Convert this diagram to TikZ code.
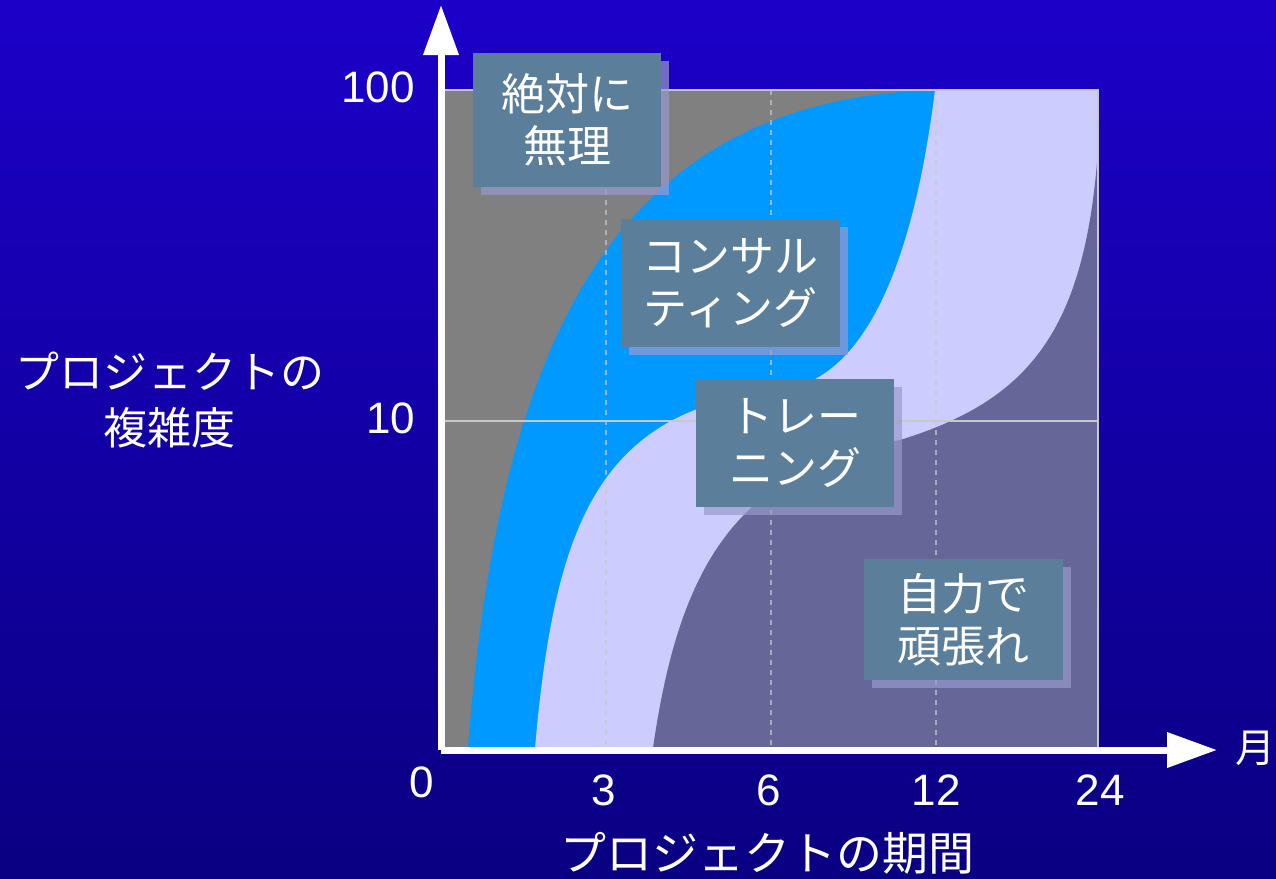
\documentclass[tikz,border=0pt]{standalone}
\usepackage{fontspec}
\setmainfont{Liberation Sans}
\newfontfamily\jpfont{Noto Sans CJK JP}
\usetikzlibrary{arrows.meta,shadows}

\definecolor{bgtop}{RGB}{28,0,200}
\definecolor{bgbot}{RGB}{10,0,130}
\definecolor{areagray}{RGB}{128,128,128}
\definecolor{areablue}{RGB}{0,153,255}
\definecolor{arealav}{RGB}{204,204,255}
\definecolor{areadark}{RGB}{102,102,153}
\definecolor{boxfill}{RGB}{91,126,155}
\definecolor{shadowcol}{RGB}{153,153,204}
\definecolor{gridcol}{RGB}{200,200,200}

\begin{document}
\begin{tikzpicture}[x=1pt,y=-1pt]
    \tikzset{
        every node/.style={text=white, inner sep=0pt, font=\fontsize{44}{54}\selectfont},
        jp/.style={font=\jpfont\fontsize{44}{56}\selectfont, align=center},
        tag/.style={jp, fill=boxfill, font=\jpfont\fontsize{44}{52}\selectfont,
            drop shadow={shadow xshift=8pt, shadow yshift=-8pt, fill=shadowcol, opacity=0.7}},
        axis/.style={white, line width=7pt, -{Triangle[length=50pt,width=34pt]}},
        grid/.style={gridcol, line width=1.5pt}
    }
    \useasboundingbox (0,0) rectangle (1276,878);
    \shade[top color=bgtop, bottom color=bgbot] (0,0) rectangle (1276,878);

    % areas
    \fill[areagray] (441,90) rectangle (1098,748);
    \fill[areablue] (468,748) .. controls (500,330) and (620,100) .. (935,90)
        -- (1098,90) -- (1098,748) -- cycle;
    \fill[arealav] (535,748) .. controls (555,520) and (600,410) .. (780,390)
        .. controls (870,380) and (915,250) .. (935,90)
        -- (1098,90) -- (1098,748) -- cycle;
    \fill[areadark] (653,748) .. controls (680,560) and (740,470) .. (900,440)
        .. controls (1030,400) and (1085,330) .. (1098,150)
        -- (1098,748) -- cycle;

    % grid
    \foreach \gx in {606,771,936}
        \draw[grid, opacity=0.7, dash pattern=on 5pt off 5pt] (\gx,90) -- (\gx,748);
    \draw[grid] (441,421) -- (1098,421);
    \draw[grid] (441,90) rectangle (1098,748);

    % axes
    \coordinate (origin) at (441,750);
    \coordinate (ytip) at (441,5);
    \coordinate (xtip) at (1217,750);
    \draw[axis] (origin) -- (ytip);
    \draw[axis] (origin) -- (xtip);

    \node (y100) at (378,87) {100};
    \node (y10) at (391,418) {10};
    \node (x0) at (422,782) {0};
    \node (x3) at (604,790) {3};
    \node (x6) at (769,790) {6};
    \node (x12) at (936,790) {12};
    \node (x24) at (1100,790) {24};
    \node[jp, font=\jpfont\fontsize{40}{48}\selectfont] (unit) at (1255,748) {月};
    \node[jp] (ylabel) at (170,400) {プロジェクトの\\複雑度};
    \node[jp, font=\jpfont\fontsize{46}{56}\selectfont] (xlabel) at (767,853) {プロジェクトの期間};

    % labels
    \node[tag, minimum width=188pt, minimum height=134pt] (muri) at (567,120) {絶対に\\無理};
    \node[tag, minimum width=219pt, minimum height=128pt] (consult) at (730.5,283) {コンサル\\ティング};
    \node[tag, minimum width=198pt, minimum height=128pt] (training) at (795,443) {トレー\\ニング};
    \node[tag, minimum width=199pt, minimum height=121pt] (jiriki) at (963.5,619.5) {自力で\\頑張れ};
\end{tikzpicture}
\end{document}
